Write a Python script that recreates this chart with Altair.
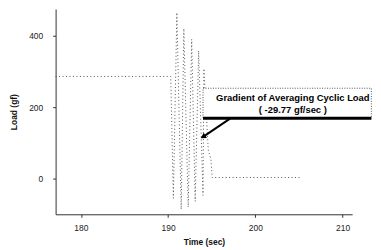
import altair as alt
import pandas as pd

# Load trace (time in sec, load in gf)
times = [177.1, 190.3, 190.6, 191.0, 191.5, 191.8, 192.3, 192.7, 193.1, 193.5, 194.0, 194.1, 194.6, 194.9, 195.05, 205.2]
loads = [286, 286, -55, 465, -86, 420, -80, 390, -64, 358, -47, 308, 80, 55, 3, 3]

x_ticks = [180, 190, 200, 210]
y_ticks = [0, 200, 400]

ann_lines = ["Gradient of Averaging Cyclic Load", "( -29.77 gf/sec )"]
ann_t = [204.3, 204.3]
ann_load = [226, 193]

box_t = [194.0]
box_t2 = [213.3]
box_load = [169]
box_load2 = [253]

arrow_t = [197.1]
arrow_load = [168]
arrow_t2 = [194.0]
arrow_load2 = [117]

trace = pd.DataFrame({"t": times, "load": loads, "i": list(range(len(times)))})

xs = alt.Scale(domain=[177.1, 211.1], nice=False, zero=False)
ys = alt.Scale(domain=[-100, 475], nice=False, zero=False)

x_axis = alt.Axis(values=x_ticks, title="Time (sec)", grid=False, tickSize=3,
                  labelPadding=6, titlePadding=6)
y_axis = alt.Axis(values=y_ticks, title="Load (gf)", grid=False, tickSize=3,
                  labelPadding=10, titlePadding=10)

line = alt.Chart(trace).mark_line(color="#555", strokeWidth=1, strokeDash=[1, 2.5]).encode(
    x=alt.X("t:Q", scale=xs, axis=x_axis),
    y=alt.Y("load:Q", scale=ys, axis=y_axis),
    order="i:Q",
)

box_df = pd.DataFrame({"t": box_t, "t2": box_t2, "l": box_load, "l2": box_load2})
box = alt.Chart(box_df).mark_rect(fill="white", stroke="#555", strokeWidth=1,
                                  strokeDash=[1, 1.5]).encode(
    x=alt.X("t:Q", scale=xs), x2="t2:Q",
    y=alt.Y("l:Q", scale=ys), y2="l2:Q",
)
bottom = alt.Chart(box_df).mark_rule(color="black", strokeWidth=3).encode(
    x=alt.X("t:Q", scale=xs), x2="t2:Q",
    y=alt.Y("l:Q", scale=ys),
)

ann_df = pd.DataFrame({"t": ann_t, "l": ann_load, "txt": ann_lines})
ann = alt.Chart(ann_df).mark_text(fontSize=9.5, fontWeight="bold", font="Liberation Sans",
                                  color="black").encode(
    x=alt.X("t:Q", scale=xs), y=alt.Y("l:Q", scale=ys), text="txt:N",
)

arr_df = pd.DataFrame({"t": arrow_t, "l": arrow_load, "t2": arrow_t2, "l2": arrow_load2})
arrow = alt.Chart(arr_df).mark_rule(color="black", strokeWidth=2).encode(
    x=alt.X("t:Q", scale=xs), x2="t2:Q",
    y=alt.Y("l:Q", scale=ys), y2="l2:Q",
)
head = alt.Chart(arr_df).mark_point(shape="triangle-up", filled=True, color="black",
                                    size=40, angle=239, opacity=1).encode(
    x=alt.X("t2:Q", scale=xs), y=alt.Y("l2:Q", scale=ys),
)

chart = alt.layer(line, box, bottom, ann, arrow, head).properties(
    width=299, height=207,
    padding={"left": 1, "top": 0, "right": 0, "bottom": 0},
).configure_view(stroke=None).configure_axis(
    domainColor="#333", tickColor="#333", labelFontSize=8.5, titleFontSize=8.5,
    labelFont="Liberation Sans", titleFont="Liberation Sans", labelColor="#222",
    titleColor="#111", titleFontWeight="bold",
)

chart.save("out.html", embed_options={"renderer": "svg", "actions": False})
